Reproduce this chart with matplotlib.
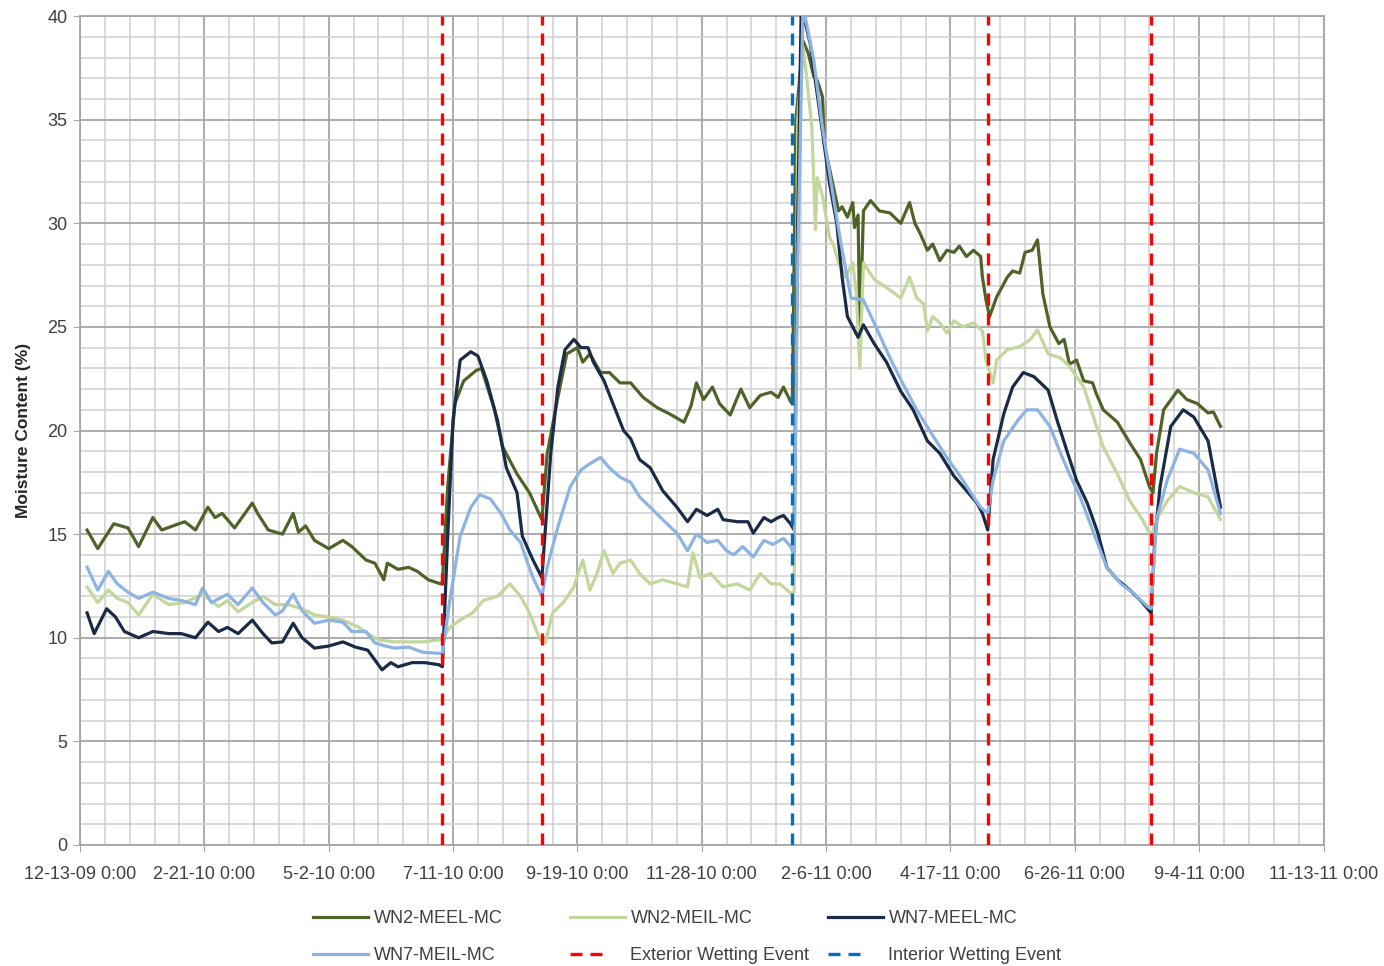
import numpy as np
import pandas as pd
import matplotlib
matplotlib.use("Agg")
import matplotlib.pyplot as plt
import matplotlib.dates as mdates
from matplotlib.lines import Line2D
from matplotlib.ticker import FuncFormatter

plt.rcParams['font.family'] = ['Liberation Sans', 'DejaVu Sans']

START = pd.Timestamp('2009-12-13')

# (day offset from 12-13-09, moisture content %)
WN2_MEEL = [(4,15.2),(10,14.3),(19,15.5),(27,15.3),(33,14.4),(41,15.8),(46,15.2),(54,15.45),(59,15.6),(65,15.2),
            (72,16.3),(76,15.8),(80,16.0),(87,15.3),(97,16.5),(100,16.0),(106,15.2),(114,15.0),(120,16.0),(123,15.1),
            (127,15.4),(132,14.7),(140,14.3),(148,14.7),(153,14.4),(161,13.75),(166,13.6),(171,12.8),(173,13.6),(179,13.3),
            (185,13.4),(190,13.2),(196,12.8),(203,12.6),
            (204,12.7),(207,17.3),(211,21.3),(216,22.4),(223,22.9),(226,23.0),(233,21.1),(238,19.2),(246,17.9),(253,17.0),(260,15.7),
            (263,18.9),(269,21.6),(274,23.7),(280,24.0),(283,23.3),(287,23.7),(293,22.8),(298,22.8),(304,22.3),(310,22.3),
            (317,21.6),(325,21.1),(332,20.8),(340,20.4),(344,21.2),(347,22.3),(351,21.5),(356,22.1),(360,21.3),(366,20.75),
            (372,22.0),(377,21.1),(383,21.7),(389,21.85),(393,21.6),(396,22.1),(400,21.4),(401,21.3),
            (403,35.0),(407,38.8),(410,38.2),(413,37.1),(415,36.9),(418,36.1),(419,33.8),(422,32.6),(425,31.4),(427,30.6),
            (429,30.8),(432,30.3),(435,31.0),(436,29.8),(438,30.4),(439,24.4),(441,30.6),(445,31.1),(450,30.6),(456,30.5),
            (462,30.0),(467,31.0),(470,30.0),(473,29.5),(477,28.7),(480,29.0),(484,28.2),(488,28.7),(492,28.6),(495,28.9),
            (499,28.4),(503,28.7),(507,28.4),(508,27.4),(510,26.3),(512,25.5),(516,26.45),(522,27.4),(525,27.7),(529,27.6),
            (532,28.6),(536,28.7),(539,29.2),(542,26.6),(546,25.0),(551,24.2),(554,24.4),(557,23.2),(561,23.4),(565,22.4),
            (570,22.3),(572,21.8),(576,21.0),(584,20.4),(591,19.4),(597,18.6),(602,17.3),(604,17.0),(606,18.9),(610,21.0),
            (618,21.95),(623,21.5),(629,21.3),(635,20.85),(638,20.9),(642,20.2)]

WN2_MEIL = [(4,12.45),(10,11.7),(16,12.3),(21,11.9),(27,11.7),(33,11.1),(41,12.1),(50,11.6),(59,11.7),(69,12.1),
            (78,11.5),(83,11.8),(89,11.25),(97,11.7),(103,12.0),(110,11.6),(117,11.6),(125,11.4),(132,11.1),(140,11.0),
            (148,10.85),(157,10.5),(162,10.2),(168,9.9),(177,9.8),(193,9.8),(202,9.9),
            (204,9.9),(208,10.5),(214,10.85),(221,11.2),(227,11.8),(235,12.0),(242,12.6),(248,12.0),(253,11.2),(259,9.9),
            (262,9.75),(266,11.2),(272,11.7),(278,12.45),(283,13.75),(287,12.3),(291,13.1),(295,14.2),(300,13.1),(304,13.6),
            (310,13.75),(315,13.1),(321,12.6),(328,12.8),(336,12.6),(342,12.45),(345,14.1),(349,12.9),(355,13.1),(362,12.45),
            (370,12.6),(377,12.3),(383,13.1),(389,12.6),(394,12.6),(400,12.15),
            (402,12.2),(404,35.0),(407,38.5),(409,37.1),(412,34.6),(414,29.7),(415,32.2),(418,31.3),(422,29.3),(424,29.0),
            (427,28.1),(431,27.4),(435,28.1),(437,26.6),(439,23.0),(441,28.1),(447,27.3),(454,26.9),(462,26.4),(467,27.4),
            (471,26.4),(475,26.1),(477,24.8),(480,25.5),(484,25.2),(488,24.7),(492,25.3),(497,25.0),(503,25.2),(508,24.8),
            (510,23.4),(514,22.3),(516,23.4),(522,23.9),(529,24.05),(535,24.4),(539,24.85),(545,23.7),(552,23.5),(557,23.1),
            (565,22.1),(570,20.8),(576,19.2),(584,17.9),(591,16.6),(598,15.7),(603,14.9),(606,15.7),(612,16.6),(619,17.3),
            (627,17.0),(635,16.8),(642,15.7)]

WN7_MEEL = [(4,11.2),(8,10.2),(15,11.4),(20,11.0),(25,10.3),(33,10.0),(41,10.3),(50,10.2),(57,10.2),(65,10.0),
            (72,10.75),(78,10.3),(83,10.5),(89,10.2),(97,10.85),(103,10.2),(108,9.75),(114,9.8),(120,10.7),(125,10.0),
            (132,9.5),(140,9.6),(148,9.8),(155,9.55),(162,9.4),(170,8.45),(175,8.8),(179,8.6),(187,8.8),(194,8.8),(202,8.7),
            (204,8.6),(207,14.9),(210,20.5),(214,23.4),(220,23.8),(224,23.6),(229,22.4),(235,20.5),(240,18.2),(246,17.0),
            (249,14.9),(255,13.75),(260,12.9),(262,15.3),(265,18.9),(269,22.1),(273,23.9),(278,24.4),(282,24.0),(286,24.0),
            (289,23.3),(295,22.4),(300,21.3),(306,20.0),(310,19.6),(315,18.6),(321,18.2),(328,17.1),(336,16.3),(342,15.6),
            (347,16.2),(353,15.9),(359,16.2),(362,15.7),(370,15.6),(376,15.6),(379,15.05),(385,15.8),(389,15.6),(393,15.8),
            (396,15.9),(400,15.5),
            (402,15.2),(404,30.0),(406,40.5),(411,38.7),(417,35.0),(422,31.9),(426,30.0),(429,27.4),(432,25.5),(438,24.5),
            (441,25.1),(447,24.2),(454,23.3),(462,21.9),(469,21.0),(477,19.5),(484,18.9),(492,17.8),(499,17.1),(505,16.5),
            (508,16.0),(511,15.2),(514,18.6),(520,20.8),(525,22.1),(531,22.8),(537,22.6),(545,21.95),(550,20.5),(556,18.9),
            (561,17.6),(567,16.5),(573,15.05),(578,13.4),(584,12.8),(591,12.3),(597,11.8),(603,11.2),(605,14.7),(608,17.3),
            (614,20.2),(621,21.0),(627,20.65),(635,19.5),(642,16.3)]

WN7_MEIL = [(4,13.4),(10,12.3),(16,13.2),(21,12.6),(27,12.2),(33,11.9),(41,12.2),(50,11.9),(57,11.8),(65,11.6),
            (69,12.4),(74,11.7),(83,12.1),(89,11.6),(97,12.4),(103,11.7),(110,11.1),(114,11.3),(120,12.1),(125,11.3),
            (132,10.7),(140,10.85),(148,10.75),(153,10.3),(161,10.3),(166,9.75),(172,9.6),(177,9.5),(185,9.55),(193,9.3),(202,9.25),
            (204,9.25),(208,11.7),(214,14.9),(220,16.3),(225,16.9),(231,16.7),(237,16.0),(242,15.2),(248,14.6),(252,13.6),
            (255,12.9),(260,12.0),(263,13.4),(269,15.35),(276,17.3),(282,18.1),(287,18.4),(293,18.7),(298,18.2),(304,17.75),
            (310,17.5),(315,16.8),(321,16.3),(328,15.7),(336,15.05),(342,14.2),(347,15.0),(353,14.6),(359,14.7),(364,14.2),
            (368,14.0),(373,14.4),(379,13.9),(385,14.7),(390,14.5),(396,14.8),(400,14.4),
            (402,14.0),(404,28.0),(407,40.5),(413,37.9),(418,34.6),(424,31.3),(428,29.2),(434,26.4),(441,26.3),(447,25.2),
            (456,23.5),(463,22.3),(471,21.0),(479,19.9),(488,18.7),(497,17.6),(503,16.8),(507,16.3),(511,16.0),(514,17.6),
            (520,19.5),(528,20.5),(533,21.0),(539,21.0),(546,20.2),(552,18.9),(557,17.9),(563,16.8),(570,15.2),(578,13.4),
            (586,12.6),(593,12.15),(601,11.5),(603,11.4),(606,15.7),(612,17.6),(619,19.1),(627,18.9),(635,18.1),(642,16.0)]

EXTERIOR_EVENTS = ['2010-07-05', '2010-08-30', '2011-05-08', '2011-08-08']
INTERIOR_EVENTS = ['2011-01-18']

SERIES_NAMES = ['WN2-MEEL-MC', 'WN2-MEIL-MC', 'WN7-MEEL-MC', 'WN7-MEIL-MC']
SERIES_DATA = [WN2_MEEL, WN2_MEIL, WN7_MEEL, WN7_MEIL]
SERIES_COLORS = ['#4F6228', '#C3D69B', '#1B2A47', '#8DB3E2']

Y_TICKS = list(range(0, 41, 5))
X_TICK_DAYS = list(range(0, 701, 70))
X_MINOR_DAYS = list(range(0, 701, 14))

FIG_W, FIG_H = 1384, 966
fig = plt.figure(figsize=(FIG_W / 100, FIG_H / 100), dpi=100)
ax = fig.add_axes([0.0578, 0.1253, 0.8985, 0.858])

handles = {}
for name, data, color in zip(SERIES_NAMES, SERIES_DATA, SERIES_COLORS):
    days = [d for d, _ in data]
    vals = [v for _, v in data]
    dates = START + pd.to_timedelta(days, unit='D')
    ln, = ax.plot(dates, vals, color=color, lw=2.3, solid_joinstyle='round', zorder=3)
    handles[name] = ln

for ev in EXTERIOR_EVENTS:
    ax.axvline(pd.Timestamp(ev), color='#FF0000', lw=2.4, dashes=(3.6, 2.4), zorder=4)
for ev in INTERIOR_EVENTS:
    ax.axvline(pd.Timestamp(ev), color='#0070C0', lw=2.4, dashes=(3.6, 2.4), zorder=4)

ax.set_ylim(0, 40)
ax.set_xlim(START, START + pd.Timedelta(days=700))
ax.set_yticks(Y_TICKS)
ax.set_yticks(range(0, 41), minor=True)
ax.set_xticks([START + pd.Timedelta(days=d) for d in X_TICK_DAYS])
ax.set_xticks([START + pd.Timedelta(days=d) for d in X_MINOR_DAYS], minor=True)

def fmt(v, pos):
    d = mdates.num2date(v)
    return f"{d.month}-{d.day}-{d:%y} 0:00"
ax.xaxis.set_major_formatter(FuncFormatter(fmt))

ax.grid(which='major', color='#A6A6A6', lw=1.3)
ax.grid(which='minor', color='#CFCFCF', lw=1.1)
ax.set_axisbelow(True)
for s in ax.spines.values():
    s.set_color('#A6A6A6')
    s.set_linewidth(1.3)
ax.tick_params(which='major', length=5, color='#A6A6A6', labelsize=13, labelcolor='#404040', pad=4)
ax.tick_params(which='minor', length=0)
ax.tick_params(axis='x', pad=10)

ax.set_ylabel('Moisture Content (%)', fontsize=12.5, fontweight='bold', color='#262626', labelpad=12)

ext = Line2D([], [], color='#FF0000', lw=2.4, dashes=(3.6, 2.4, 3.6, 40))
inn = Line2D([], [], color='#0070C0', lw=2.4, dashes=(3.6, 2.4, 3.6, 40))

legend_cols = [
    ([handles['WN2-MEEL-MC'], handles['WN7-MEIL-MC']], ['WN2-MEEL-MC', 'WN7-MEIL-MC'], 313),
    ([handles['WN2-MEIL-MC'], ext], ['WN2-MEIL-MC', 'Exterior Wetting Event'], 570),
    ([handles['WN7-MEEL-MC'], inn], ['WN7-MEEL-MC', 'Interior Wetting Event'], 828),
]
for hs, ls, x0 in legend_cols:
    leg = fig.legend(hs, ls, loc='center left', bbox_to_anchor=(x0 / FIG_W, 1 - 937 / FIG_H),
                     frameon=False, fontsize=13, handlelength=3.05, handletextpad=0.3,
                     labelspacing=1.12, borderpad=0, borderaxespad=0, labelcolor='#404040')

fig.savefig('out.png', dpi=100)
